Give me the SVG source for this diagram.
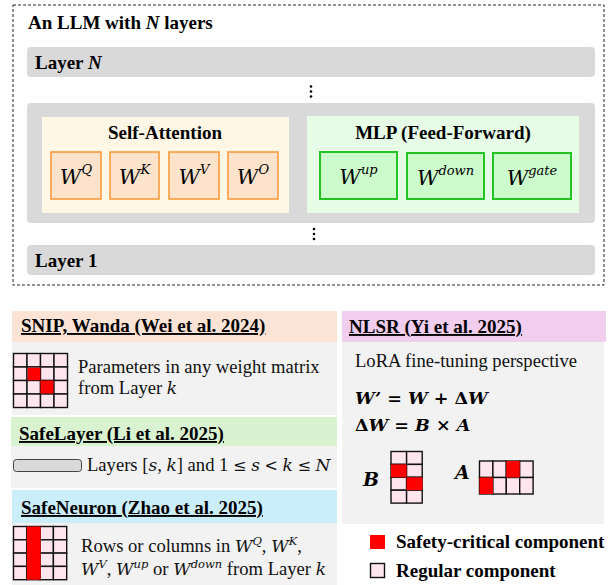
<svg xmlns="http://www.w3.org/2000/svg" width="611" height="585" viewBox="0 0 611 585">
  <style>
    .b { font-family: "Liberation Serif", "Times New Roman", serif; font-weight: bold; font-size: 19px; fill: #000; }
    .r { font-family: "Liberation Serif", "Times New Roman", serif; font-size: 18.6px; fill: #111; }
    .m { font-family: "DejaVu Serif", "Liberation Serif", serif; font-style: italic; }
    .u { text-decoration: underline; }
    .bar { fill: #d9d9d9; }
    .wo { fill: #fde3cc; stroke: #fa9a3c; stroke-width: 1.6; }
    .wg { fill: #ccfccc; stroke: #22c422; stroke-width: 2; }
    .body { fill: #f2f2f2; }
    .cell { fill: #ffe6ee; stroke: #111; stroke-width: 1.4; }
    .red { fill: #ff0000; }
    .dot { fill: #000; }
  </style>

  <rect width="611" height="585" fill="#ffffff"/>

  <!-- Model overview -->
  <g id="llm">
    <rect x="13" y="5" width="591" height="280" fill="none" stroke="#222" stroke-width="1" stroke-dasharray="3,2"/>
    <text class="b" x="28" y="29">An LLM with <tspan font-style="italic">N</tspan> layers</text>
  </g>

  <g id="layer-n">
    <rect class="bar" x="27" y="47" width="568" height="30" rx="4"/>
    <text class="b" x="35" y="69">Layer <tspan font-style="italic">N</tspan></text>
  </g>

  <g id="dots-top">
    <circle class="dot" cx="311" cy="86.5" r="1.3"/>
    <circle class="dot" cx="311" cy="91.5" r="1.3"/>
    <circle class="dot" cx="311" cy="96.5" r="1.3"/>
  </g>

  <g id="layer-k">
    <rect class="bar" x="27" y="103" width="568" height="120" rx="4"/>
  </g>

  <g id="self-attention">
    <rect x="42" y="117" width="247" height="96" fill="#fff7e6"/>
    <text class="b" x="165" y="139" text-anchor="middle">Self-Attention</text>
  </g>
  <g id="wq">
    <rect class="wo" x="51" y="152" width="50" height="47"/>
    <text class="m" x="76" y="184" text-anchor="middle" font-size="21">W<tspan font-size="13" dy="-10">Q</tspan></text>
  </g>
  <g id="wk">
    <rect class="wo" x="110" y="152" width="49" height="47"/>
    <text class="m" x="134.5" y="184" text-anchor="middle" font-size="21">W<tspan font-size="13" dy="-10">K</tspan></text>
  </g>
  <g id="wv">
    <rect class="wo" x="169" y="152" width="50" height="47"/>
    <text class="m" x="194" y="184" text-anchor="middle" font-size="21">W<tspan font-size="13" dy="-10">V</tspan></text>
  </g>
  <g id="wo">
    <rect class="wo" x="228" y="152" width="50" height="47"/>
    <text class="m" x="253" y="184" text-anchor="middle" font-size="21">W<tspan font-size="13" dy="-10">O</tspan></text>
  </g>

  <g id="mlp">
    <rect x="307" y="116" width="272" height="97" fill="#e6fce6"/>
    <text class="b" x="443" y="139" text-anchor="middle">MLP (Feed-Forward)</text>
  </g>
  <g id="wup">
    <rect class="wg" x="320" y="152" width="77" height="47"/>
    <text class="m" x="358.5" y="184" text-anchor="middle" font-size="21">W<tspan font-size="13" dy="-10">up</tspan></text>
  </g>
  <g id="wdown">
    <rect class="wg" x="407" y="153" width="77" height="46"/>
    <text class="m" x="445.5" y="185" text-anchor="middle" font-size="21">W<tspan font-size="13" dy="-10">down</tspan></text>
  </g>
  <g id="wgate">
    <rect class="wg" x="493" y="153" width="78" height="46"/>
    <text class="m" x="532" y="185" text-anchor="middle" font-size="21">W<tspan font-size="13" dy="-10">gate</tspan></text>
  </g>

  <g id="dots-bottom">
    <circle class="dot" cx="314" cy="229" r="1.3"/>
    <circle class="dot" cx="314" cy="234" r="1.3"/>
    <circle class="dot" cx="314" cy="239" r="1.3"/>
  </g>

  <g id="layer-1">
    <rect class="bar" x="27" y="245" width="568" height="30" rx="4"/>
    <text class="b" x="35" y="267">Layer 1</text>
  </g>

  <!-- SNIP, Wanda -->
  <g id="snip">
    <rect x="12" y="311" width="325" height="31" fill="#fbe3d5"/>
    <rect class="body" x="12" y="342" width="325" height="73"/>
    <text class="b u" x="21" y="332" font-size="18.4">SNIP, Wanda (Wei et al. 2024)</text>
    <g>
      <rect class="cell" x="13.5" y="353.5" width="13.5" height="13.5"/>
      <rect class="cell" x="27" y="353.5" width="13.5" height="13.5"/>
      <rect class="cell" x="40.5" y="353.5" width="13.5" height="13.5"/>
      <rect class="cell" x="54" y="353.5" width="13.5" height="13.5"/>
      <rect class="cell" x="13.5" y="367" width="13.5" height="13.5"/>
      <rect class="cell" x="27" y="367" width="13.5" height="13.5"/>
      <rect class="cell" x="40.5" y="367" width="13.5" height="13.5"/>
      <rect class="cell" x="54" y="367" width="13.5" height="13.5"/>
      <rect class="cell" x="13.5" y="380.5" width="13.5" height="13.5"/>
      <rect class="cell" x="27" y="380.5" width="13.5" height="13.5"/>
      <rect class="cell" x="40.5" y="380.5" width="13.5" height="13.5"/>
      <rect class="cell" x="54" y="380.5" width="13.5" height="13.5"/>
      <rect class="cell" x="13.5" y="394" width="13.5" height="13.5"/>
      <rect class="cell" x="27" y="394" width="13.5" height="13.5"/>
      <rect class="cell" x="40.5" y="394" width="13.5" height="13.5"/>
      <rect class="cell" x="54" y="394" width="13.5" height="13.5"/>
      <rect class="red" x="27.7" y="367.7" width="12.6" height="12.6"/>
      <rect class="red" x="40.5" y="380.5" width="13" height="13"/>
    </g>
    <text class="r" x="78" y="373">Parameters in any weight matrix</text>
    <text class="r" x="78" y="394">from Layer <tspan class="m" font-size="17">k</tspan></text>
  </g>

  <!-- SafeLayer -->
  <g id="safelayer">
    <rect x="11" y="417" width="326" height="29" fill="#d9f2d0"/>
    <rect class="body" x="11" y="446" width="326" height="42"/>
    <text class="b u" x="19" y="440" font-size="18.4">SafeLayer (Li et al. 2025)</text>
    <rect x="13.5" y="459.5" width="68" height="12" rx="3" fill="#d9d9d9" stroke="#444" stroke-width="1"/>
    <text class="r" x="87" y="471">Layers [<tspan class="m" font-size="17">s</tspan>, <tspan class="m" font-size="17">k</tspan>] and 1 <tspan font-family="DejaVu Serif" font-size="16">≤</tspan> <tspan class="m" font-size="17">s</tspan> <tspan font-family="DejaVu Serif" font-size="16">&lt;</tspan> <tspan class="m" font-size="17">k</tspan> <tspan font-family="DejaVu Serif" font-size="16">≤</tspan> <tspan class="m" font-size="17">N</tspan></text>
  </g>

  <!-- SafeNeuron -->
  <g id="safeneuron">
    <rect x="12" y="490" width="325" height="33" fill="#cbeefb"/>
    <rect class="body" x="12" y="523" width="325" height="62"/>
    <text class="b u" x="21" y="514" font-size="18.4">SafeNeuron (Zhao et al. 2025)</text>
    <g>
      <rect class="cell" x="13.5" y="526.5" width="13.3" height="13.3"/>
      <rect class="cell" x="26.8" y="526.5" width="13.3" height="13.3"/>
      <rect class="cell" x="40.1" y="526.5" width="13.3" height="13.3"/>
      <rect class="cell" x="53.4" y="526.5" width="13.3" height="13.3"/>
      <rect class="cell" x="13.5" y="539.8" width="13.3" height="13.3"/>
      <rect class="cell" x="26.8" y="539.8" width="13.3" height="13.3"/>
      <rect class="cell" x="40.1" y="539.8" width="13.3" height="13.3"/>
      <rect class="cell" x="53.4" y="539.8" width="13.3" height="13.3"/>
      <rect class="cell" x="13.5" y="553.1" width="13.3" height="13.3"/>
      <rect class="cell" x="26.8" y="553.1" width="13.3" height="13.3"/>
      <rect class="cell" x="40.1" y="553.1" width="13.3" height="13.3"/>
      <rect class="cell" x="53.4" y="553.1" width="13.3" height="13.3"/>
      <rect class="cell" x="13.5" y="566.4" width="13.3" height="13.3"/>
      <rect class="cell" x="26.8" y="566.4" width="13.3" height="13.3"/>
      <rect class="cell" x="40.1" y="566.4" width="13.3" height="13.3"/>
      <rect class="cell" x="53.4" y="566.4" width="13.3" height="13.3"/>
      <rect class="red" x="26.8" y="526.5" width="13.8" height="53.2"/>
    </g>
    <text class="r" x="81" y="552">Rows or columns in <tspan class="m" font-size="17">W</tspan><tspan class="m" font-size="11.5" dy="-7">Q</tspan><tspan dy="7">, </tspan><tspan class="m" font-size="17">W</tspan><tspan class="m" font-size="11.5" dy="-7">K</tspan><tspan dy="7">,</tspan></text>
    <text class="r" x="81" y="575"><tspan class="m" font-size="17">W</tspan><tspan class="m" font-size="11.5" dy="-7">V</tspan><tspan dy="7">, </tspan><tspan class="m" font-size="17">W</tspan><tspan class="m" font-size="11.5" dy="-7">up</tspan><tspan dy="7"> or </tspan><tspan class="m" font-size="17">W</tspan><tspan class="m" font-size="11.5" dy="-7">down</tspan><tspan dy="7"> from Layer </tspan><tspan class="m" font-size="17">k</tspan></text>
  </g>

  <!-- NLSR -->
  <g id="nlsr">
    <rect x="342" y="311" width="264" height="31" fill="#f1cdee"/>
    <rect class="body" x="342" y="342" width="262" height="182"/>
    <text class="b u" x="349" y="333" font-size="18.4">NLSR (Yi et al. 2025)</text>
    <text class="r" x="355" y="367">LoRA fine-tuning perspective</text>
    <text class="m" x="355" y="404" font-size="17.5" font-weight="bold">W’ <tspan font-style="normal">=</tspan> W <tspan font-style="normal">+</tspan> <tspan font-style="normal">Δ</tspan>W</text>
    <text class="m" x="355" y="431" font-size="17.5" font-weight="bold"><tspan font-style="normal">Δ</tspan>W <tspan font-style="normal">=</tspan> B <tspan font-style="normal">×</tspan> A</text>

    <text class="m" x="363" y="486" font-size="19" font-weight="bold">B</text>
    <g>
      <rect class="cell" x="391" y="451.5" width="15.6" height="12.9"/>
      <rect class="cell" x="406.6" y="451.5" width="15.6" height="12.9"/>
      <rect class="cell" x="391" y="464.4" width="15.6" height="12.9"/>
      <rect class="cell" x="406.6" y="464.4" width="15.6" height="12.9"/>
      <rect class="cell" x="391" y="477.3" width="15.6" height="12.9"/>
      <rect class="cell" x="406.6" y="477.3" width="15.6" height="12.9"/>
      <rect class="cell" x="391" y="490.2" width="15.6" height="12.9"/>
      <rect class="cell" x="406.6" y="490.2" width="15.6" height="12.9"/>
      <rect class="red" x="391" y="464.4" width="15.6" height="12.9"/>
      <rect class="red" x="406.6" y="477.3" width="16" height="12.9"/>
    </g>

    <text class="m" x="455" y="479" font-size="19" font-weight="bold">A</text>
    <g>
      <rect class="cell" x="479.5" y="461" width="13.4" height="16.5"/>
      <rect class="cell" x="492.9" y="461" width="13.4" height="16.5"/>
      <rect class="cell" x="506.3" y="461" width="13.4" height="16.5"/>
      <rect class="cell" x="519.7" y="461" width="13.4" height="16.5"/>
      <rect class="cell" x="479.5" y="477.5" width="13.4" height="16.5"/>
      <rect class="cell" x="492.9" y="477.5" width="13.4" height="16.5"/>
      <rect class="cell" x="506.3" y="477.5" width="13.4" height="16.5"/>
      <rect class="cell" x="519.7" y="477.5" width="13.4" height="16.5"/>
      <rect class="red" x="506.3" y="461" width="13.4" height="16.5"/>
      <rect class="red" x="479.5" y="477.5" width="13.4" height="16.5"/>
    </g>
  </g>

  <!-- Legend -->
  <g id="legend">
    <rect class="red" x="370" y="535" width="15" height="14"/>
    <text class="b" x="396" y="548">Safety-critical component</text>
    <rect class="cell" x="370.5" y="563.5" width="14" height="14"/>
    <text class="b" x="396" y="577">Regular component</text>
  </g>
</svg>
